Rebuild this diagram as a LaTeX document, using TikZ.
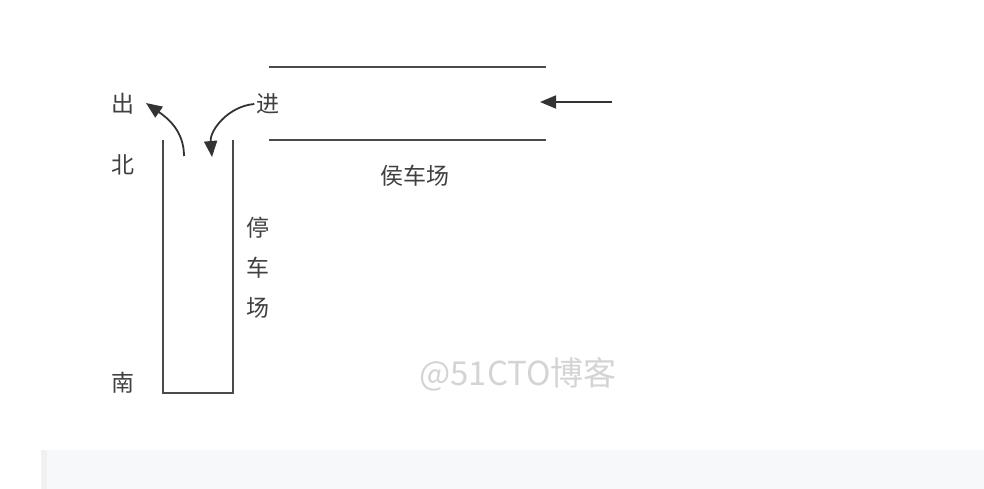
\documentclass[tikz,border=0pt]{standalone}
\usepackage{fontspec}
\newfontfamily\cjk{Noto Sans CJK SC}
\usetikzlibrary{arrows.meta}
\definecolor{wallgray}{HTML}{4A4A4A}
\definecolor{bargray}{HTML}{F7F8FA}
\definecolor{baredge}{HTML}{F1F1F1}
\definecolor{markgray}{HTML}{D4D4D4}
\tikzset{
  lbl/.style = {font=\cjk\fontsize{23}{23}\selectfont, text=black!75, inner sep=0pt},
  wall/.style = {draw=wallgray, line width=2pt},
  flow/.style = {-{Triangle[length=16pt,width=13pt]}, line width=1.8pt, draw=black!80},
}
\begin{document}
\begin{tikzpicture}[x=1pt, y=-1pt]
\useasboundingbox (0,0) rectangle (984,489);
\fill[bargray] (41,450) rectangle (984,489);
\fill[baredge] (41,450) rectangle (47,489);
% waiting lane
\coordinate (topA) at (269,67);
\coordinate (topB) at (546,67);
\coordinate (botA) at (269,140);
\coordinate (botB) at (546,140);
\draw[wall] (topA) -- (topB);
\draw[wall] (botA) -- (botB);
\node[lbl] (waiting) at (415,176) {侯车场};
\coordinate (incoming) at (612,102);
\coordinate (queue) at (540,102);
\draw[flow] (incoming) -- (queue);
% parking lot
\coordinate (nw) at (163,140);
\coordinate (sw) at (163,393);
\coordinate (se) at (233,393);
\coordinate (ne) at (233,140);
\draw[wall] (nw) -- (sw) -- (se) -- (ne);
\foreach \ch [count=\i] in {停,车,场}
{
  \node[lbl] (park\i) at (258, 188+40*\i) {\ch};
}
\node[lbl] (north) at (123,165) {北};
\node[lbl] (south) at (123,383) {南};
\node[lbl] (out) at (123,104) {出};
\node[lbl] (in) at (268,104) {进};
% gates
\coordinate (exitgate) at (184,156);
\coordinate (exittip) at (146,103);
\coordinate (entrygate) at (212,157);
\draw[flow] (exitgate) to[out=90, in=-35] (exittip);
\draw[flow] ([xshift=-2pt]in.west) to[out=185, in=95] (entrygate);
\node[font=\cjk\fontsize{33}{33}\selectfont, text=markgray, inner sep=0pt] (mark) at (518,374) {@51CTO博客};
\end{tikzpicture}
\end{document}
